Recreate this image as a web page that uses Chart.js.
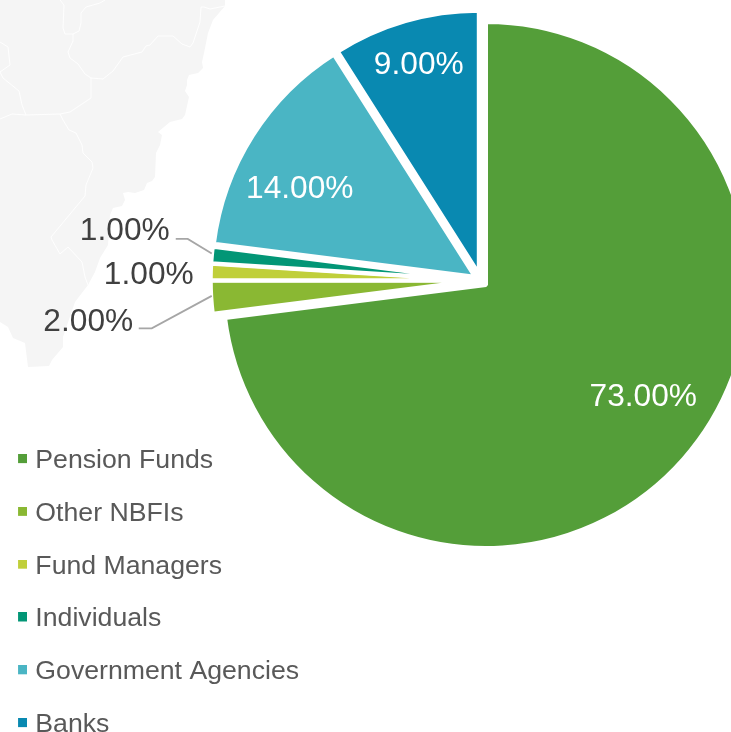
<!DOCTYPE html>
<html>
<head>
<meta charset="utf-8">
<style>html,body{margin:0;padding:0;background:#fff}canvas{display:block}</style>
<script src="https://cdn.jsdelivr.net/npm/chart.js@4"></script>
</head>
<body>
<canvas id="c" width="731" height="732"></canvas>
<script>
const categories = ['Pension Funds','Other NBFIs','Fund Managers','Individuals','Government Agencies','Banks'];
const shares = [73,2,1,1,14,9];
const sliceColors = ['#549E39','#8AB833','#C0CF3A','#029676','#4AB5C4','#0989B1'];
const labelColors = ['#FFFFFF','#404040','#404040','#404040','#FFFFFF','#FFFFFF'];
const FONT = '"Liberation Sans", Arial, sans-serif';
const explodePx = 7;

// label anchors, relative to the pie centre
const labelOffsets = [[162.5,116.7],[-392.5,41.5],[-332,-5.5],[-356,-49.5],[-181,-91.5],[-62,-215.5]];
// leader lines, relative to the pie centre
const leaders = {
  1: [[-342,48],[-329,48],[-269,15.5]],
  3: [[-305,-41.5],[-293,-41.5],[-269,-27]]
};

// faint map in the background
const mapOutline = [[0,0],[225,0],[225,6],[213,20],[208,33],[204,53],[202,62],[203,68],[198,73],[189,75],[187,80],[187,85],[185,91],[189,97],[185,115],[182,119],[170,122],[158,132],[162,135],[160,145],[156,153],[155,177],[152,181],[147,183],[144,190],[135,193],[128,192],[123,193],[125,200],[122,206],[113,208],[110,215],[108,245],[100,258],[95,272],[88,285],[75,302],[63,337],[63,347],[52,360],[49,366],[28,367],[25,343],[13,338],[8,327],[0,322]];
const mapBorders = [
  [[60,0],[64,5],[63,28],[65,34],[73,34],[79,31],[81,23],[81,13],[86,7],[100,3],[105,0]],
  [[73,34],[73,41],[68,52],[70,58],[78,64],[85,74],[91,78],[103,79],[113,71],[123,57],[142,52],[146,46],[150,45],[158,36],[173,36],[182,44],[190,47],[193,43],[200,22],[201,7],[204,7],[210,9],[225,6]],
  [[91,78],[91,98],[70,112],[60,114],[26,115],[12,114],[0,119]],
  [[60,114],[63,120],[69,130],[76,133],[82,145],[83,153],[92,162],[93,168],[86,185],[85,196],[51,237],[52,240],[60,254],[68,247],[82,262],[85,277],[88,285]],
  [[0,42],[8,47],[10,65],[0,72],[3,78],[19,91],[22,105],[26,115]]
];

const mapPlugin = {
  id:'mapBackdrop',
  beforeDraw(chart){
    const ctx=chart.ctx;
    ctx.save();
    ctx.fillStyle='#F5F5F5';
    ctx.beginPath();
    mapOutline.forEach((p,i)=> i? ctx.lineTo(p[0],p[1]) : ctx.moveTo(p[0],p[1]));
    ctx.closePath();
    ctx.fill();
    ctx.strokeStyle='#FFFFFF';
    ctx.lineWidth=0.9;
    ctx.lineJoin='round';
    for(const b of mapBorders){
      ctx.beginPath();
      b.forEach((p,i)=> i? ctx.lineTo(p[0],p[1]) : ctx.moveTo(p[0],p[1]));
      ctx.stroke();
    }
    ctx.restore();
  }
};

// the slices keep their radius and are pulled out along their middle angle
const explodePlugin = {
  id:'explodeSlices',
  afterDatasetsUpdate(chart){
    for(const arc of chart.getDatasetMeta(0).data){
      const mid=(arc.startAngle+arc.endAngle)/2;
      arc.x+=Math.cos(mid)*explodePx;
      arc.y+=Math.sin(mid)*explodePx;
    }
  }
};

const placeLegend = {
  id:'placeLegend',
  afterLayout(chart){
    const l=chart.legend;
    l.left=-4.13; l.top=421.1; l.right=l.left+l.width; l.bottom=l.top+l.height;
  }
};

const labelPlugin = {
  id:'sliceLabels',
  afterDatasetsDraw(chart){
    const ctx=chart.ctx, a=chart.chartArea;
    const cx=(a.left+a.right)/2, cy=(a.top+a.bottom)/2;
    ctx.save();
    ctx.strokeStyle='#A6A6A6';
    ctx.lineWidth=1.8;
    for(const k of Object.keys(leaders)){
      ctx.beginPath();
      leaders[k].forEach((p,i)=> i? ctx.lineTo(cx+p[0],cy+p[1]) : ctx.moveTo(cx+p[0],cy+p[1]));
      ctx.stroke();
    }
    ctx.font='31.7px '+FONT;
    ctx.textAlign='center';
    ctx.textBaseline='middle';
    shares.forEach((v,i)=>{
      ctx.fillStyle=labelColors[i];
      ctx.fillText(v.toFixed(2)+'%',cx+labelOffsets[i][0],cy+labelOffsets[i][1]);
    });
    ctx.restore();
  }
};

function swatch(color){
  const s=document.createElement('canvas');
  s.width=10; s.height=13;
  const g=s.getContext('2d');
  g.fillStyle=color; g.fillRect(1,0,9,9);
  return s;
}

new Chart(document.getElementById('c'),{
  type:'pie',
  plugins:[mapPlugin,explodePlugin,placeLegend,labelPlugin],
  data:{
    labels:categories,
    datasets:[{
      data:shares,
      backgroundColor:sliceColors,
      borderColor:'#FFFFFF',
      borderWidth:4
    }]
  },
  options:{
    responsive:false,
    animation:false,
    radius:263,
    layout:{padding:{left:230.5,top:0,right:0,bottom:171.2}},
    plugins:{
      tooltip:{enabled:false},
      legend:{
        position:'chartArea',
        align:'start',
        labels:{
          usePointStyle:true,
          pointStyleWidth:0.01,
          padding:26.13,
          color:'#595959',
          font:{family:FONT,size:26.67},
          generateLabels:()=>categories.map((t,i)=>({
            text:t, fontColor:'#595959', pointStyle:swatch(sliceColors[i]),
            hidden:false, index:i, lineWidth:0
          }))
        }
      }
    }
  }
});
</script>
</body>
</html>
